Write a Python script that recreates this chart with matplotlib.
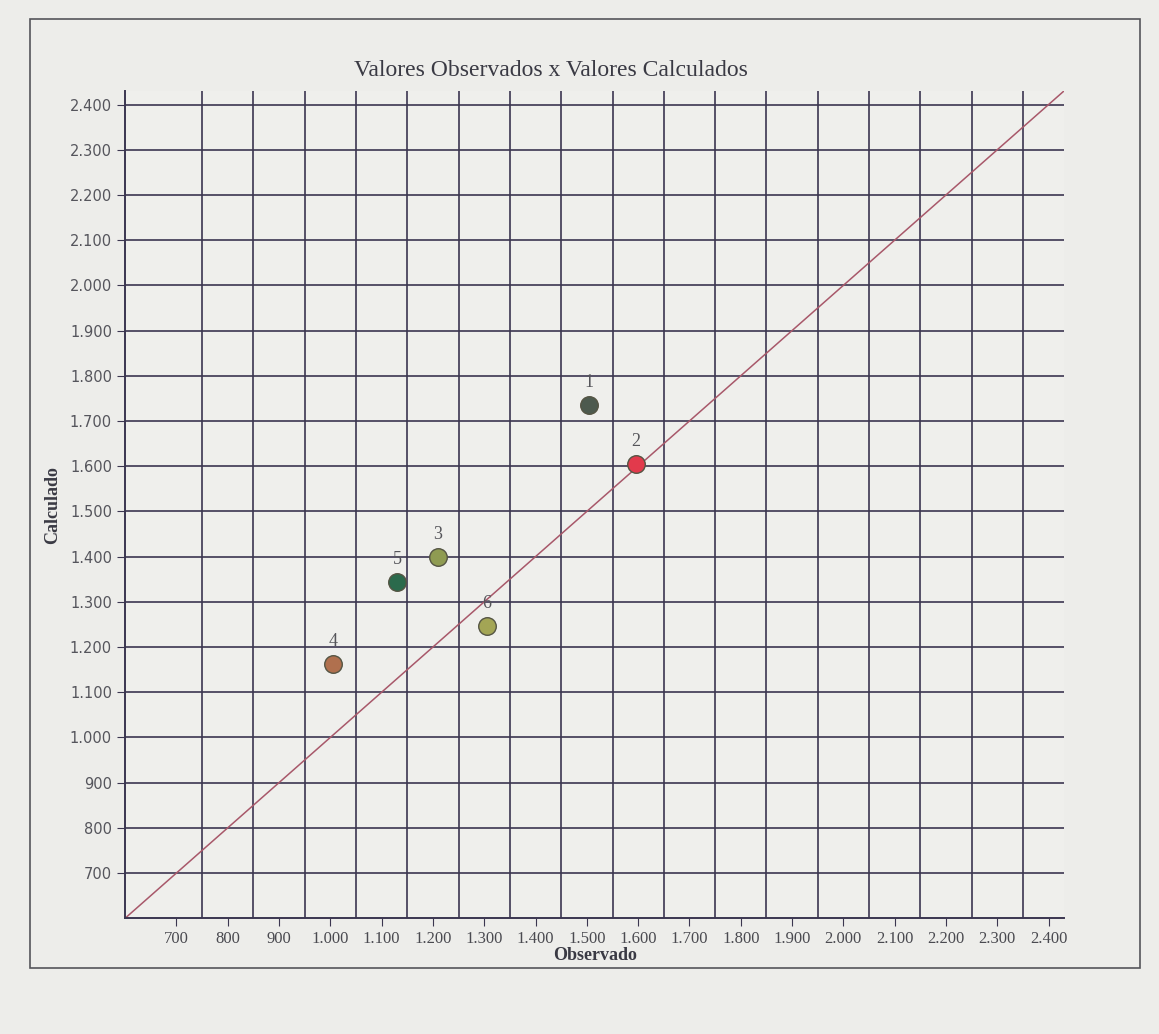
import matplotlib
matplotlib.use("Agg")
import matplotlib.pyplot as plt
from matplotlib.patches import Rectangle
from matplotlib.ticker import FuncFormatter
import numpy as np

# data
point_labels = ["1", "2", "3", "4", "5", "6"]
observado = [1505, 1595, 1210, 1005, 1130, 1305]
calculado = [1735, 1605, 1400, 1162, 1343, 1246]
point_colors = ["#4d5a4e", "#e23a4c", "#8f9b52", "#b0704e", "#2b6a4c", "#a3a555"]
x_ticks = list(range(700, 2401, 100))
y_ticks = list(range(700, 2401, 100))
x_grid = list(range(750, 2351, 100))
identity = [600, 2430]

fig = plt.figure(figsize=(11.59, 10.34), dpi=100)
fig.patch.set_facecolor("#ededea")

# outer panel border
fig.patches.append(Rectangle((0.026, 0.064), 0.958, 0.918, transform=fig.transFigure,
                             fill=False, edgecolor="#55555a", linewidth=1.2))

ax = fig.add_axes([0.108, 0.112, 0.81, 0.80])
ax.set_facecolor("#efefec")
ax.set_xlim(600, 2430)
ax.set_ylim(600, 2430)

grid_color = "#3b3650"
for gx in x_grid:
    ax.axvline(gx, color=grid_color, linewidth=1.2, zorder=1)
for gy in y_ticks:
    ax.axhline(gy, color=grid_color, linewidth=1.2, zorder=1)

ax.plot(identity, identity, color="#a8586a", linewidth=1.1, zorder=2)

for lab, xv, yv, c in zip(point_labels, observado, calculado, point_colors):
    ax.scatter([xv], [yv], s=160, color=c, edgecolor="#555544", linewidth=1.0, zorder=3)
    ax.annotate(lab, (xv, yv), xytext=(0, 10), textcoords="offset points",
                ha="center", va="bottom", fontsize=13, color="#55555a",
                family="Liberation Serif", zorder=4)

fmt = FuncFormatter(lambda v, p: f"{int(v):,}".replace(",", "."))
ax.set_xticks(x_ticks)
ax.set_yticks(y_ticks)
ax.xaxis.set_major_formatter(fmt)
ax.yaxis.set_major_formatter(fmt)
ax.tick_params(axis="both", direction="out", length=6, color=grid_color,
               labelcolor="#4a4a50")
ax.tick_params(axis="x", labelsize=12)
ax.tick_params(axis="y", labelsize=10.5)
for lbl in ax.get_xticklabels():
    lbl.set_family("Liberation Serif")
for lbl in ax.get_yticklabels():
    lbl.set_family("DejaVu Sans")
    lbl.set_color("#55555c")

for s in ["top", "right"]:
    ax.spines[s].set_visible(False)
for s in ["left", "bottom"]:
    ax.spines[s].set_color(grid_color)
    ax.spines[s].set_linewidth(1.4)

ax.set_xlabel("Observado", family="Liberation Serif", fontweight="bold",
              fontsize=13, color="#3a3a44", labelpad=0)
ax.set_ylabel("Calculado", family="Liberation Serif", fontweight="bold",
              fontsize=13, color="#3a3a44", labelpad=6)
fig.text(0.475, 0.932, "Valores Observados x Valores Calculados",
         ha="center", va="center", family="Liberation Serif", fontsize=17,
         color="#3a3a44")

fig.savefig("out.png", dpi=100, facecolor=fig.get_facecolor())
